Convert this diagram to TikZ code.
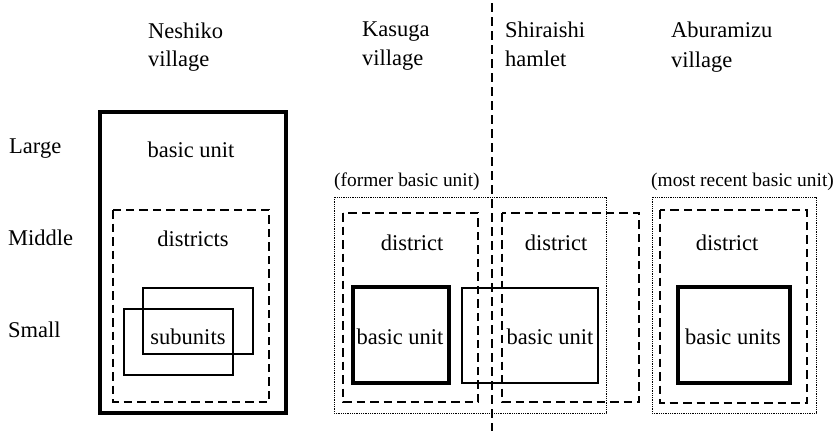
\documentclass[tikz,border=0pt]{standalone}
\usepackage{fontspec}
\setmainfont{Liberation Serif}
\begin{document}
\begin{tikzpicture}[x=1pt,y=-1pt,
  lbl/.style={inner sep=0pt,font=\fontsize{22.5}{28}\selectfont},
  smalllbl/.style={inner sep=0pt,font=\fontsize{19.4}{24}\selectfont},
  thickbox/.style={draw,line width=3.2pt},
  thinbox/.style={draw,line width=1.3pt},
  dashbox/.style={draw,line width=1.3pt,dash pattern=on 8.5pt off 5pt},
  dotbox/.style={draw,line width=0.9pt,dash pattern=on 0.9pt off 0.9pt},
  divider/.style={draw,line width=2.4pt,dash pattern=on 9pt off 5pt}]
\useasboundingbox (0,0) rectangle (839,431);
% row labels
\node[lbl,anchor=base west] (large) at (9,153) {Large};
\node[lbl,anchor=base west] (middle) at (8,245) {Middle};
\node[lbl,anchor=base west] (small) at (8,337) {Small};
% column headers
\node[lbl,anchor=base west] (nesh) at (148,38) {Neshiko};
\node[lbl,anchor=base west] (neshv) at (148,66) {village};
\node[lbl,anchor=base west] (kas) at (362,36) {Kasuga};
\node[lbl,anchor=base west] (kasv) at (362,65) {village};
\node[lbl,anchor=base west] (shi) at (505,37) {Shiraishi};
\node[lbl,anchor=base west] (shih) at (505,66) {hamlet};
\node[lbl,anchor=base west] (abu) at (671,37) {Aburamizu};
\node[lbl,anchor=base west] (abuv) at (671,67) {village};
% Neshiko
\draw[thickbox] (100,112) rectangle (286,413);
\draw[dashbox] (113,210) rectangle (269,402);
\draw[thinbox] (143,288) rectangle (253,354);
\draw[thinbox] (124,309) rectangle (233,375);
\node[lbl,anchor=base] (nbu) at (191,157) {basic unit};
\node[lbl,anchor=base] (ndi) at (193,246) {districts};
\node[lbl,anchor=base] (nsu) at (188,344) {subunits};
% Kasuga / Shiraishi
\node[smalllbl,anchor=base west] (former) at (334,186) {(former basic unit)};
\draw[dotbox] (334,197) rectangle (606,413);
\draw[dashbox] (343,213) rectangle (478,402);
\draw[dashbox] (502,213) rectangle (639,402);
\draw[thickbox] (353,287) rectangle (449,383);
\draw[thinbox] (462,288) rectangle (598,383);
\node[lbl,anchor=base] (kdi) at (412,250) {district};
\node[lbl,anchor=base] (sdi) at (556,250) {district};
\node[lbl,anchor=base] (kbu) at (400,344) {basic unit};
\node[lbl,anchor=base] (sbu) at (550,344) {basic unit};
% Aburamizu
\node[smalllbl,anchor=base west] (recent) at (651,186) {(most recent basic unit)};
\draw[dotbox] (652,197) rectangle (816,413);
\draw[dashbox] (660,210) rectangle (807,403);
\draw[thickbox] (678,287) rectangle (790,383);
\node[lbl,anchor=base] (adi) at (727,250) {district};
\node[lbl,anchor=base] (abu3) at (733,344) {basic units};
% divider
\coordinate (dtop) at (492,3);
\coordinate (dbot) at (492,431);
\draw[divider] (dtop) -- (dbot);
\end{tikzpicture}
\end{document}
